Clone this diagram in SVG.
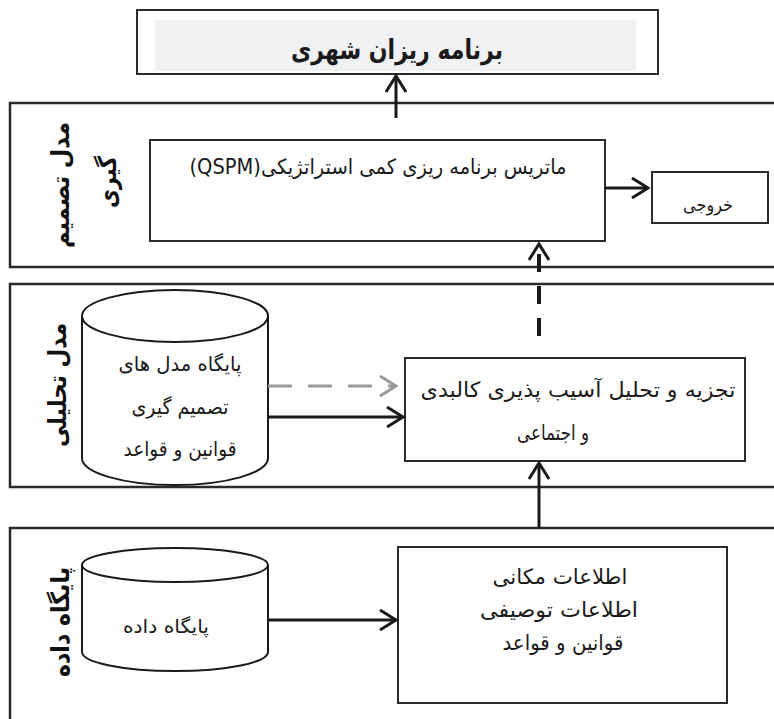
<svg xmlns="http://www.w3.org/2000/svg" width="774" height="719" viewBox="0 0 774 719">
<style>
.panel{fill:none;stroke:#2a2a2a;stroke-width:2.5}
.box{fill:#fff;stroke:#2a2a2a;stroke-width:2}
.cyl{fill:#fff;stroke:#1a1a1a;stroke-width:2}
.t{font-family:"DejaVu Sans",sans-serif;fill:#1a1a1a;text-anchor:middle;direction:rtl}
.lbl{font-family:"DejaVu Sans",sans-serif;font-weight:bold;font-size:25px;fill:#111;text-anchor:middle;dominant-baseline:central;direction:rtl}
.conn{fill:none;stroke:#1a1a1a;stroke-width:3}
.conn-dash{fill:none;stroke:#1a1a1a;stroke-width:4;stroke-dasharray:18 14}
.conn-gray{fill:none;stroke:#9a9a9a;stroke-width:3;stroke-dasharray:24 16}
</style>
<defs>
<marker id="ah" markerUnits="userSpaceOnUse" viewBox="0 0 20 22" refX="18" refY="11" markerWidth="20" markerHeight="22" orient="auto">
<path d="M2,1 L18,11 L2,21" fill="none" stroke="#1a1a1a" stroke-width="3"/>
</marker>
<marker id="ahg" markerUnits="userSpaceOnUse" viewBox="0 0 20 22" refX="18" refY="11" markerWidth="20" markerHeight="22" orient="auto">
<path d="M2,1 L18,11 L2,21" fill="none" stroke="#9a9a9a" stroke-width="3"/>
</marker>
</defs>

<g id="panel-decision">
<rect class="panel" x="10" y="103" width="790" height="164"/>
<text class="lbl" transform="rotate(-90 60 185)" x="60" y="185" textLength="126" lengthAdjust="spacingAndGlyphs">مدل تصمیم</text>
<text class="lbl" transform="rotate(-90 107 182)" x="107" y="182" textLength="52" lengthAdjust="spacingAndGlyphs">گیری</text>
</g>
<g id="panel-analysis">
<rect class="panel" x="10" y="284" width="790" height="203"/>
<text class="lbl" transform="rotate(-90 57 385)" x="57" y="385" textLength="124" lengthAdjust="spacingAndGlyphs">مدل تحلیلی</text>
</g>
<g id="panel-database">
<rect class="panel" x="10" y="528" width="790" height="220"/>
<text class="lbl" transform="rotate(-90 60 622)" x="60" y="622" textLength="110" lengthAdjust="spacingAndGlyphs">پایگاه داده</text>
</g>

<g id="title">
<rect class="box" x="137" y="10" width="521" height="64"/>
<rect x="155" y="20" width="481" height="51" fill="#f0f1f2"/>
<text class="t" x="397" y="59" font-size="27" font-weight="bold" textLength="212" lengthAdjust="spacingAndGlyphs">برنامه ریزان شهری</text>
</g>

<g id="qspm">
<rect class="box" x="150" y="140" width="455" height="101"/>
<text class="t" x="378" y="174" font-size="21" textLength="377" lengthAdjust="spacingAndGlyphs">ماتریس برنامه ریزی کمی استراتژیکی(QSPM)</text>
</g>

<g id="output">
<rect class="box" x="652" y="172" width="116" height="51"/>
<text class="t" x="708" y="211" font-size="18" textLength="50" lengthAdjust="spacingAndGlyphs">خروجی</text>
</g>

<g id="models-db">
<path class="cyl" d="M82,316 L82,458 A93,27 0 0 0 268,458 L268,316"/>
<ellipse class="cyl" cx="175" cy="316" rx="93" ry="26"/>
<text class="t" x="180" y="371" font-size="20" textLength="123" lengthAdjust="spacingAndGlyphs">پایگاه مدل های</text>
<text class="t" x="180" y="414" font-size="20" textLength="97" lengthAdjust="spacingAndGlyphs">تصمیم گیری</text>
<text class="t" x="180" y="456" font-size="20" textLength="113" lengthAdjust="spacingAndGlyphs">قوانین و قواعد</text>
</g>

<g id="analysis">
<rect class="box" x="405" y="358" width="340" height="103"/>
<text class="t" x="578" y="397" font-size="21" textLength="315" lengthAdjust="spacingAndGlyphs">تجزیه و تحلیل آسیب پذیری کالبدی</text>
<text class="t" x="553" y="440" font-size="21" textLength="72" lengthAdjust="spacingAndGlyphs">و اجتماعی</text>
</g>

<g id="database">
<path class="cyl" d="M82,565 L82,652 A93,19 0 0 0 268,652 L268,565"/>
<ellipse class="cyl" cx="175" cy="565" rx="93" ry="17"/>
<text class="t" x="166" y="633" font-size="19" textLength="86" lengthAdjust="spacingAndGlyphs">پایگاه داده</text>
</g>

<g id="info">
<rect class="box" x="398" y="547" width="329" height="156"/>
<text class="t" x="560" y="584" font-size="21" textLength="135" lengthAdjust="spacingAndGlyphs">اطلاعات مکانی</text>
<text class="t" x="559" y="617" font-size="21" textLength="158" lengthAdjust="spacingAndGlyphs">اطلاعات توصیفی</text>
<text class="t" x="563" y="650" font-size="21" textLength="121" lengthAdjust="spacingAndGlyphs">قوانین و قواعد</text>
</g>

<g id="connectors">
<line class="conn" x1="396" y1="118" x2="396" y2="76" marker-end="url(#ah)"/>
<line class="conn" x1="605" y1="188" x2="648" y2="188" marker-end="url(#ah)"/>
<line class="conn-dash" x1="539" y1="336" x2="539" y2="244" marker-end="url(#ah)"/>
<line class="conn-gray" x1="268" y1="386" x2="396" y2="386" marker-end="url(#ahg)"/>
<line class="conn" x1="268" y1="417" x2="403" y2="417" marker-end="url(#ah)"/>
<line class="conn" x1="539" y1="528" x2="539" y2="463" marker-end="url(#ah)"/>
<line class="conn" x1="268" y1="620" x2="396" y2="620" marker-end="url(#ah)"/>
</g>
</svg>
